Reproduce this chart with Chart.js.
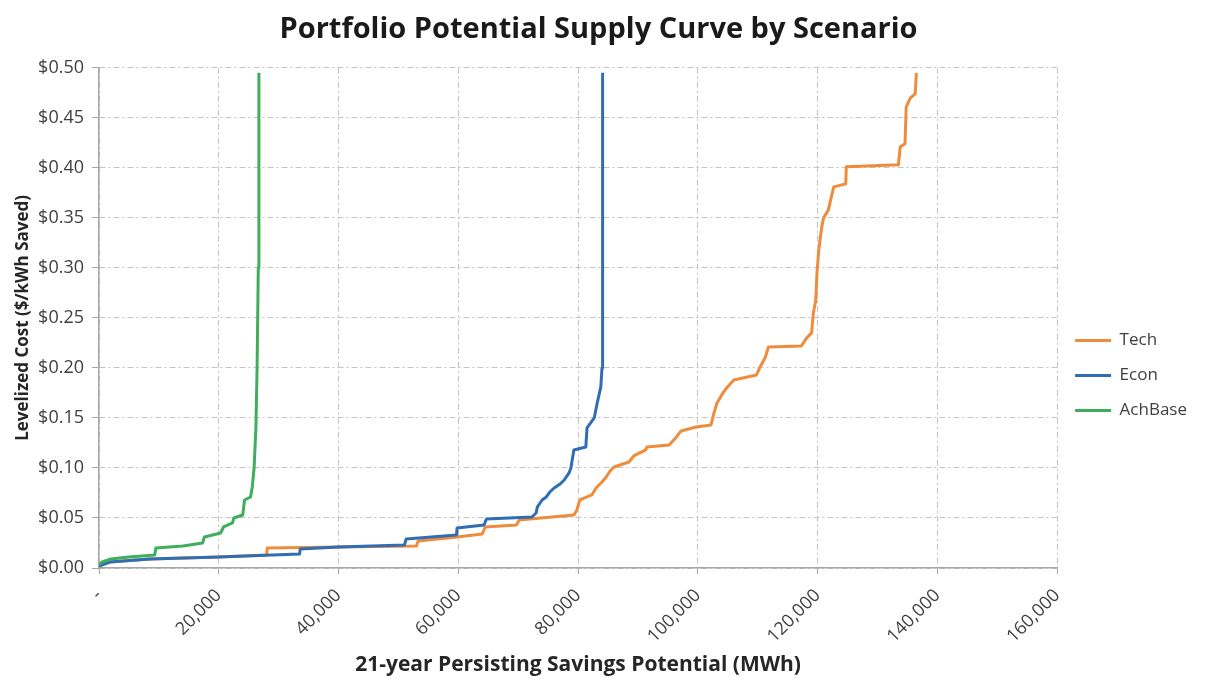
<!DOCTYPE html>
<html>
<head>
<meta charset="utf-8">
<script src="https://cdn.jsdelivr.net/npm/chart.js@4.4.1/dist/chart.umd.min.js"></script>
<style>
  html, body { margin: 0; padding: 0; background: #fff; }
  #wrap { width: 1217px; height: 679px; }
</style>
</head>
<body>
<div id="wrap"><canvas id="supplyChart" width="1217" height="679"></canvas></div>
<script>
// cumulative savings (MWh) and levelized cost ($/kWh) for each scenario
const techSavings = [0, 1800, 8500, 20000, 28000, 28100, 40000, 53000, 53300, 59800, 64000, 64500, 69700, 70200, 79300, 79800, 80300, 82300, 83000, 84000, 84700, 85500, 86000, 88500, 89300, 91300, 91500, 95200, 96300, 97200, 99700, 102200, 102700, 103200, 104000, 104800, 106000, 109800, 110400, 111300, 111800, 117300, 118200, 119000, 119300, 119700, 119900, 120200, 120700, 121000, 121800, 122300, 122700, 124700, 124800, 133500, 133800, 134600, 134800, 135500, 136300, 136500];
const techCost = [0.002, 0.006, 0.009, 0.011, 0.013, 0.020, 0.021, 0.022, 0.027, 0.031, 0.034, 0.041, 0.043, 0.048, 0.053, 0.058, 0.068, 0.073, 0.080, 0.086, 0.091, 0.098, 0.101, 0.106, 0.112, 0.118, 0.121, 0.123, 0.130, 0.137, 0.141, 0.143, 0.155, 0.165, 0.173, 0.180, 0.188, 0.193, 0.201, 0.211, 0.221, 0.222, 0.230, 0.235, 0.255, 0.268, 0.295, 0.318, 0.341, 0.350, 0.358, 0.371, 0.381, 0.384, 0.401, 0.403, 0.421, 0.424, 0.461, 0.470, 0.474, 0.495];

const econSavings = [0, 1800, 8500, 20000, 33500, 33600, 40000, 51000, 51300, 59700, 59800, 64300, 64700, 72300, 73000, 73200, 74000, 74700, 75300, 76000, 77000, 77700, 78500, 78800, 79300, 81300, 81500, 82700, 83200, 83800, 84000, 84100, 84100];
const econCost = [0.002, 0.006, 0.009, 0.011, 0.014, 0.019, 0.021, 0.023, 0.029, 0.033, 0.040, 0.043, 0.049, 0.051, 0.055, 0.061, 0.068, 0.071, 0.076, 0.080, 0.084, 0.088, 0.095, 0.100, 0.118, 0.121, 0.140, 0.150, 0.165, 0.181, 0.20, 0.30, 0.495];

const achSavings = [0, 500, 2000, 5000, 9300, 9500, 14000, 17300, 17600, 20300, 20800, 22300, 22500, 24000, 24300, 25300, 25600, 25900, 26200, 26400, 26600, 26700];
const achCost = [0.003, 0.006, 0.009, 0.011, 0.013, 0.020, 0.022, 0.025, 0.031, 0.035, 0.041, 0.045, 0.050, 0.053, 0.068, 0.071, 0.081, 0.10, 0.14, 0.20, 0.30, 0.495];

const toPoints = (xs, ys) => xs.map((x, i) => ({ x: x, y: ys[i] }));

const FONT = '"Open Sans", Lato, sans-serif';
const gridColor = '#c4c4c4';

const series = (label, xs, ys, color) => ({
    label: label,
    data: toPoints(xs, ys),
    borderColor: color,
    backgroundColor: color,
    borderWidth: 3,
    pointRadius: 0,
    tension: 0,
    fill: false,
    borderJoinStyle: 'round'
});

// first dataset is drawn on top, legend is reversed so Tech reads first
const data = {
    datasets: [
        series('AchBase', achSavings, achCost, '#3fae5b'),
        series('Econ', econSavings, econCost, '#2f6db5'),
        series('Tech', techSavings, techCost, '#ee8c3c')
    ]
};

const config = {
    type: 'line',
    data: data,
    options: {
        responsive: false,
        animation: false,
        layout: { padding: { top: 2, right: 20, bottom: 0, left: 0 } },
        plugins: {
            title: {
                display: true,
                text: 'Portfolio Potential Supply Curve by Scenario',
                color: '#1a1a1a',
                font: { family: FONT, size: 29, weight: 'bold' },
                padding: { top: 10, bottom: 21 }
            },
            legend: {
                position: 'right',
                reverse: true,
                // blank title pushes the items a little below centre
                title: { display: true, text: ' ', font: { size: 40 }, padding: 11 },
                labels: {
                    usePointStyle: true,
                    pointStyle: 'line',
                    pointStyleWidth: 36,
                    color: '#404040',
                    font: { family: FONT, size: 17 },
                    padding: 18
                }
            },
            tooltip: { enabled: false }
        },
        scales: {
            x: {
                type: 'linear',
                min: 0,
                max: 160000,
                ticks: {
                    stepSize: 20000,
                    minRotation: 45,
                    maxRotation: 45,
                    color: '#404040',
                    padding: 11,
                    font: { family: FONT, size: 18 },
                    callback: (v) => v === 0 ? '-' : v.toLocaleString('en-US')
                },
                grid: { color: gridColor, tickLength: 6, tickColor: '#a6a6a6', tickBorderDash: [] },
                border: { color: '#a6a6a6', width: 1.5, dash: [6, 3, 2, 3] },
                title: {
                    display: true,
                    text: '21-year Persisting Savings Potential (MWh)',
                    color: '#262626',
                    font: { family: FONT, size: 21, weight: 'bold' },
                    padding: { top: 4, bottom: 1 }
                },
                afterFit: (scale) => { scale.height = 111; }
            },
            y: {
                min: 0,
                max: 0.5,
                ticks: {
                    stepSize: 0.05,
                    color: '#404040',
                    padding: 8,
                    font: { family: FONT, size: 18 },
                    callback: (v) => '$' + v.toFixed(2)
                },
                grid: { color: gridColor, tickLength: 7, tickColor: '#a6a6a6', tickBorderDash: [] },
                border: { color: '#a6a6a6', width: 1.5, dash: [6, 3, 2, 3] },
                title: {
                    display: true,
                    text: 'Levelized Cost ($/kWh Saved)',
                    color: '#262626',
                    font: { family: FONT, size: 17, weight: 'bold' },
                    padding: { top: 13, bottom: 0 }
                },
                afterFit: (scale) => { scale.width = 99; }
            }
        }
    }
};

const supplyChart = new Chart(document.getElementById('supplyChart'), config);
</script>
</body>
</html>
